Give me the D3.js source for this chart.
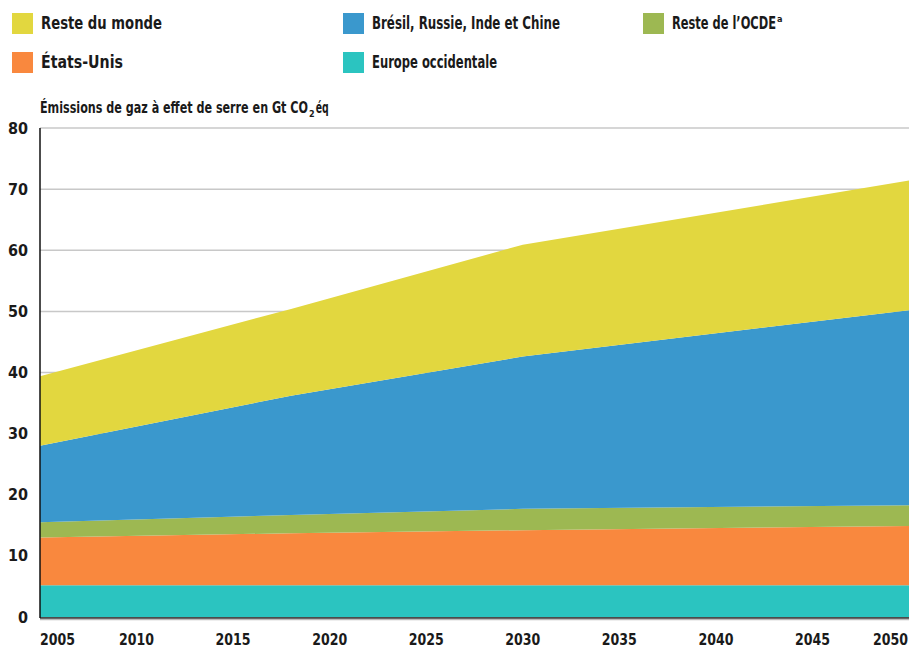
<!DOCTYPE html>
<html>
<head>
<meta charset="utf-8">
<script src="https://cdn.jsdelivr.net/npm/d3@7"></script>
<style>
  body { margin: 0; background: #fff; }
  text { font-family: "DejaVu Sans Condensed", "Liberation Sans Narrow", sans-serif; font-weight: bold; fill: #1a1a1a; }
</style>
</head>
<body>
<div id="area_chart"></div>
<script>
// data (Gt CO2eq per region)
var years = [2005, 2018, 2030, 2050];
var europe = [5.2, 5.2, 5.2, 5.2];
var usa = [7.8, 8.5, 9.0, 9.7];
var ocde = [2.5, 3.0, 3.5, 3.4];
var bric = [12.5, 19.5, 24.9, 31.9];
var reste = [11.4, 14.2, 18.3, 21.2];

var yTicks = [0, 10, 20, 30, 40, 50, 60, 70, 80];
var xTicks = [2005, 2010, 2015, 2020, 2025, 2030, 2035, 2040, 2045, 2050];

var keys = ["europe", "usa", "ocde", "bric", "reste"];
var labels = {
  reste: "Reste du monde",
  bric: "Brésil, Russie, Inde et Chine",
  ocde: "Reste de l’OCDE",
  usa: "États-Unis",
  europe: "Europe occidentale"
};
var colors = {
  europe: "#2bc4c0",
  usa: "#f9883e",
  ocde: "#9db852",
  bric: "#3a98cd",
  reste: "#e2d73f"
};

var table = years.map(function(y, i) {
  return {year: y, europe: europe[i], usa: usa[i], ocde: ocde[i], bric: bric[i], reste: reste[i]};
});

var margin = {top: 128, right: 0, bottom: 31, left: 40},
    width = 909 - margin.left - margin.right,
    height = 648 - margin.top - margin.bottom;

var svg = d3.select("#area_chart")
    .append("svg")
    .attr("width", 909)
    .attr("height", 648);

var x = d3.scaleLinear().domain([2005, 2050]).range([0, width]);
var y = d3.scaleLinear().domain([0, 80]).range([height, 0]);

var g_body = svg.append("g").attr("transform", "translate(" + margin.left + "," + margin.top + ")");

// grid lines
g_body.selectAll(".grid")
    .data(yTicks.slice(1))
    .enter().append("line")
    .attr("x1", 0)
    .attr("x2", width)
    .attr("y1", function(d) { return y(d); })
    .attr("y2", function(d) { return y(d); })
    .attr("stroke", "#c8c8c8")
    .attr("stroke-width", 1.5);

// stacked areas
var series = d3.stack().keys(keys)(table);
var area = d3.area()
    .x(function(d) { return x(d.data.year); })
    .y0(function(d) { return y(d[0]); })
    .y1(function(d) { return y(d[1]); });

g_body.selectAll(".layer")
    .data(series)
    .enter().append("path")
    .attr("class", "layer")
    .attr("d", area)
    .attr("fill", function(d) { return colors[d.key]; });

// axes lines
g_body.append("line")
    .attr("x1", 0).attr("x2", 0)
    .attr("y1", 0).attr("y2", height + 1)
    .attr("stroke", "#111").attr("stroke-width", 1.5);
g_body.append("line")
    .attr("x1", 0).attr("x2", width)
    .attr("y1", height + 1).attr("y2", height + 1)
    .attr("stroke", "#111").attr("stroke-width", 1.5);
g_body.append("line")
    .attr("x1", 0).attr("x2", width)
    .attr("y1", height + 2.5).attr("y2", height + 2.5)
    .attr("stroke", "#bbb").attr("stroke-width", 1.5);

// y tick labels
g_body.selectAll(".ylab")
    .data(yTicks)
    .enter().append("text")
    .attr("x", -12)
    .attr("y", function(d) { return y(d); })
    .attr("dy", "0.35em")
    .attr("text-anchor", "end")
    .attr("font-size", 16)
    .text(function(d) { return d; });

// x tick labels
g_body.selectAll(".xlab")
    .data(xTicks)
    .enter().append("text")
    .attr("x", function(d, i) { return i == xTicks.length - 1 ? x(d) - 1 : x(d); })
    .attr("y", height + 28)
    .attr("text-anchor", function(d, i) { return i == 0 ? "start" : (i == xTicks.length - 1 ? "end" : "middle"); })
    .attr("font-size", 16)
    .attr("textLength", 35)
    .attr("lengthAdjust", "spacingAndGlyphs")
    .text(function(d) { return d; });

// title of y axis
var g_title = svg.append("text")
    .attr("x", 40)
    .attr("y", 113)
    .attr("font-size", 16);
g_title.append("tspan")
    .attr("textLength", 268)
    .attr("lengthAdjust", "spacingAndGlyphs")
    .text("Émissions de gaz à effet de serre en Gt CO");
g_title.append("tspan").attr("font-size", 9).attr("dx", 1).attr("dy", 4).text("2");
g_title.append("tspan").attr("dx", 1).attr("dy", -4)
    .attr("textLength", 13)
    .attr("lengthAdjust", "spacingAndGlyphs")
    .text("éq");

// legend
var legendPos = [
  {key: "reste", x: 12, y: 13, w: 121},
  {key: "bric", x: 343, y: 13, w: 188},
  {key: "ocde", x: 643, y: 13, w: 104},
  {key: "usa", x: 12, y: 52, w: 82},
  {key: "europe", x: 343, y: 52, w: 125}
];
var g_legend = svg.selectAll(".legend")
    .data(legendPos)
    .enter().append("g")
    .attr("transform", function(d) { return "translate(" + d.x + "," + d.y + ")"; });
g_legend.append("rect")
    .attr("width", 21)
    .attr("height", 21)
    .attr("fill", function(d) { return colors[d.key]; });
var legendText = g_legend.append("text")
    .attr("x", 29)
    .attr("y", 16)
    .attr("font-size", 17);
legendText.append("tspan")
    .attr("textLength", function(d) { return d.w; })
    .attr("lengthAdjust", "spacingAndGlyphs")
    .text(function(d) { return labels[d.key]; });
legendText.filter(function(d) { return d.key == "ocde"; })
    .append("tspan")
    .attr("font-size", 9)
    .attr("dx", 1)
    .attr("dy", -7)
    .text("a");
</script>
</body>
</html>
